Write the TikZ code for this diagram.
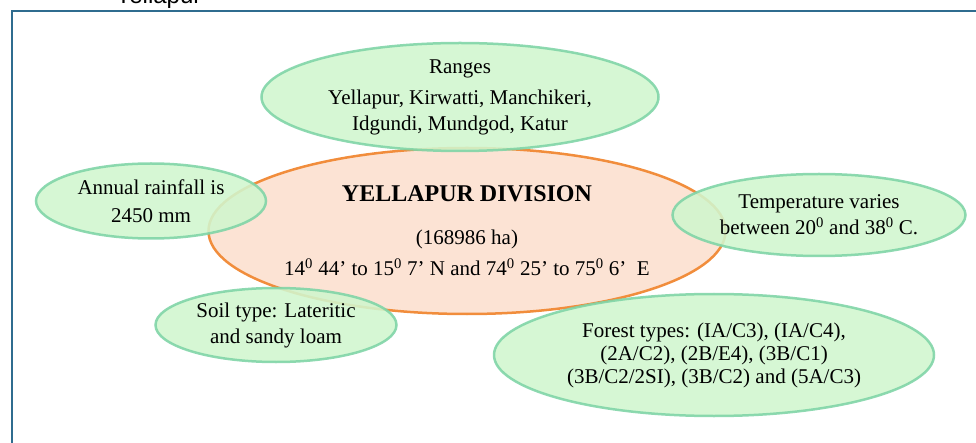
\documentclass[tikz,border=0pt]{standalone}
\usepackage{fontspec}
\setmainfont{Liberation Serif}
\newfontfamily\capfont{Liberation Sans}
\usetikzlibrary{shapes.geometric,positioning}
\definecolor{peach}{RGB}{252,227,212}
\definecolor{peachline}{RGB}{241,141,60}
\definecolor{mint}{RGB}{208,246,206}
\definecolor{mintline}{RGB}{126,212,166}
\definecolor{frameblue}{RGB}{47,108,143}

\begin{document}
\begin{tikzpicture}[x=1pt,y=-1pt,font=\fontsize{21}{26}\selectfont,
   hub/.style={ellipse,draw=peachline,fill=peach,line width=2.5pt,inner sep=0pt,align=center},
   sat/.style={ellipse,draw=mintline,fill=mint,line width=2.5pt,inner sep=0pt,align=center,
     fill opacity=0.88,draw opacity=0.88,text opacity=1}]
  \useasboundingbox (0,0) rectangle (976,443);
  \node[anchor=base west,font=\capfont\fontsize{24}{24}\selectfont] (cap) at (112,4) {Yellapur};
  \draw[frameblue,line width=2pt] (12,11) rectangle (995,465);
  % centre
  \node[hub,minimum width=512,minimum height=166] (div) at (467,231)
    {\textbf{\fontsize{24}{24}\selectfont YELLAPUR DIVISION}\\[17pt]
     (168986 ha)\\[5pt]
     14\textsuperscript{0} 44’ to 15\textsuperscript{0} 7’ N and 74\textsuperscript{0} 25’ to 75\textsuperscript{0} 6’\ \ E};
  % around it
  \node[sat,minimum width=397,minimum height=108] (rng) at (460,97)
    {Ranges\\[5pt] Yellapur, Kirwatti, Manchikeri,\\ Idgundi, Mundgod, Katur};
  \node[sat,minimum width=230,minimum height=75] (rain) at (151,201)
    {Annual rainfall is\\[2pt] 2450 mm};
  \node[sat,minimum width=293,minimum height=82] (temp) at (819,215)
    {Temperature varies\\ between 20\textsuperscript{0} and 38\textsuperscript{0} C.};
  \node[sat,minimum width=241,minimum height=74] (soil) at (276,325)
    {Soil type: Lateritic\\ and sandy loam};
  \node[sat,minimum width=440,minimum height=122] (frst) at (714,355)
    {Forest types: (IA/C3), (IA/C4),\\[-3pt] (2A/C2), (2B/E4), (3B/C1)\\[-3pt] (3B/C2/2SI), (3B/C2) and (5A/C3)};
\end{tikzpicture}
\end{document}
